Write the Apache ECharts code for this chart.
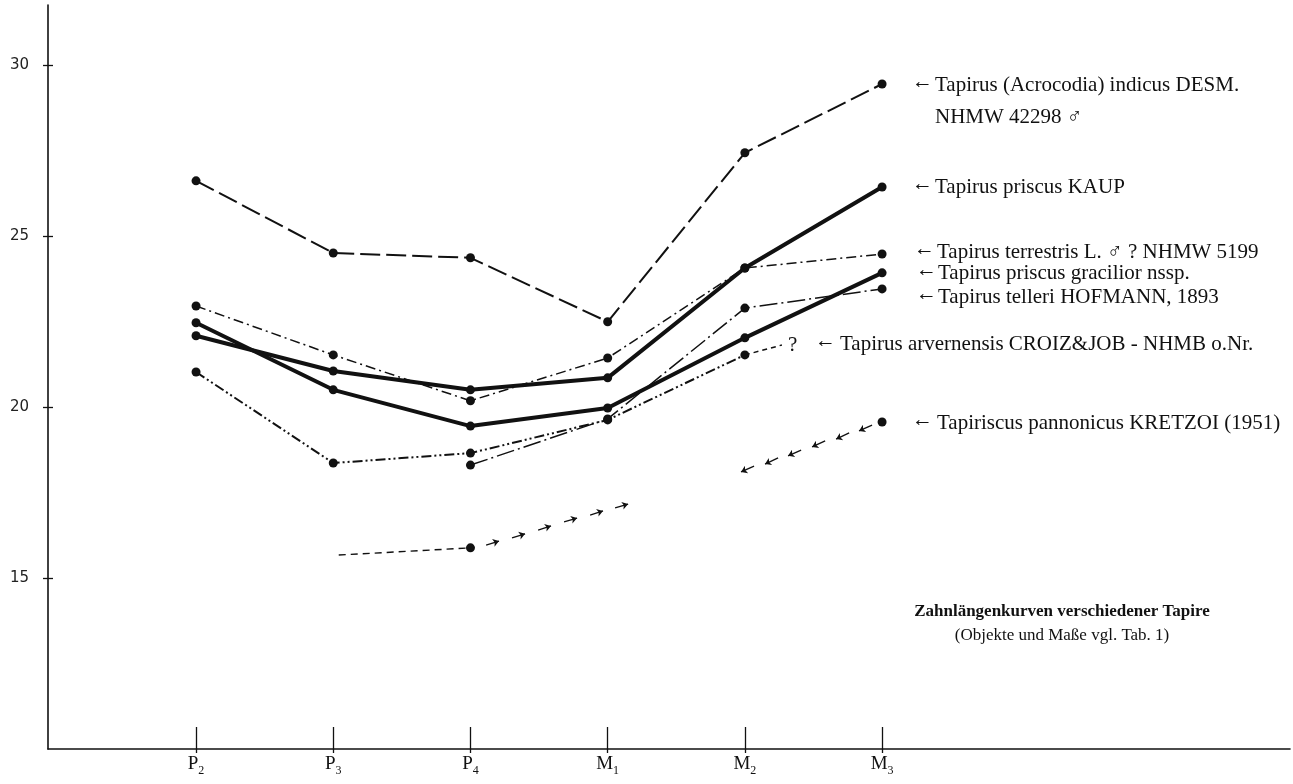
<!DOCTYPE html>
<html><head><meta charset="utf-8">
<script src="https://cdn.jsdelivr.net/npm/echarts@6/dist/echarts.min.js"></script>
<style>html,body{margin:0;padding:0;background:#fff}#c{width:1293px;height:784px}</style>
</head><body><div id="c"></div>
<script>
// ---- data ----
const categories = ['P2', 'P3', 'P4', 'M1', 'M2', 'M3'];
const catMain = ['P', 'P', 'P', 'M', 'M', 'M'];
const catSub = ['2', '3', '4', '1', '2', '3'];
const yTickValues = [15, 20, 25, 30];

const indicus     = [26.61, 24.50, 24.36, 22.49, 27.43, 29.44];
const priscusKaup = [22.08, 21.05, 20.50, 20.85, 24.06, 26.43];
const terrestris  = [22.95, 21.52, 20.18, 21.43, 24.06, 24.47];
const gracilior   = [22.46, 20.50, 19.44, 19.97, 22.02, 23.92];
const telleri     = [null, null, 18.30, 19.65, 22.89, 23.45];
const arvernensis = [21.02, 18.36, 18.65, 19.62, 21.52, null];
const arvernensisQueryX = [4, 4.27];
const arvernensisQueryY = [21.52, 21.81];
const pannonicus  = [null, null, 15.88, null, null, 19.56];
const pannonicusDashX = [1.04, 2];
const pannonicusDashY = [15.67, 15.88];
// arrow chains [tailX, tailY, headX, headY]
const pannonicusArrowsUp = [
  [2.114, 15.96, 2.208, 16.08], [2.303, 16.17, 2.398, 16.29], [2.493, 16.40, 2.587, 16.52],
  [2.682, 16.64, 2.777, 16.75], [2.872, 16.84, 2.966, 16.96], [3.054, 17.05, 3.149, 17.16]
];
const pannonicusArrowsDown = [
  [4.067, 18.27, 3.972, 18.10], [4.242, 18.51, 4.147, 18.33], [4.410, 18.74, 4.315, 18.57],
  [4.585, 19.01, 4.490, 18.83], [4.760, 19.24, 4.665, 19.06], [4.927, 19.47, 4.832, 19.30]
];

const seriesNames = [
  'Tapirus (Acrocodia) indicus DESM.', 'Tapirus priscus KAUP', 'Tapirus terrestris L. ♂ ? NHMW 5199',
  'Tapirus priscus gracilior nssp.', 'Tapirus telleri HOFMANN, 1893',
  'Tapirus arvernensis CROIZ&JOB - NHMB o.Nr.', 'Tapiriscus pannonicus KRETZOI (1951)'
];
const titleText = 'Zahnlängenkurven verschiedener Tapire';
const subtitleText = '(Objekte und Maße vgl. Tab. 1)';

// ---- chart ----
const INK = '#111';
const SERIF = '"Liberation Serif", "Times New Roman", serif';
const X_MIN = -1.079, X_MAX = 7.973, Y_MIN = 10, Y_MAX = 31.75;
const tickIdx = categories.map((c, i) => i);

function pts(arr) {
  const out = [];
  arr.forEach((v, i) => { if (v != null) out.push([i, v]); });
  return out;
}
function lineSeries(name, arr, width, dash) {
  return {
    name, type: 'line', data: pts(arr), symbol: 'circle', symbolSize: 9,
    itemStyle: { color: INK, opacity: 1 },
    lineStyle: { color: INK, width, type: dash || 'solid' },
    animation: false, z: 3
  };
}

const chart = echarts.init(document.getElementById('c'), null, { renderer: 'canvas' });

function txt(text, x, y, size, opts) {
  opts = opts || {};
  return {
    type: 'text', x, y, z: 10,
    style: {
      text, font: (opts.bold ? 'bold ' : '') + size + 'px ' + SERIF, fill: INK,
      align: opts.align || 'left', verticalAlign: 'middle',
      textAlign: opts.align || 'left', textVerticalAlign: 'middle'
    }
  };
}
function arrow(x, y) { return txt('←', x, y - 3, 21); }

const option = {
  backgroundColor: '#fff',
  animation: false,
  grid: { left: 48, right: 3, top: 5, bottom: 35 },
  xAxis: [{
    type: 'value', min: X_MIN, max: X_MAX,
    axisLine: { show: true, onZero: false, lineStyle: { color: INK, width: 1.6 } },
    axisTick: { show: true, inside: true, length: 22, customValues: tickIdx, lineStyle: { color: INK, width: 1.3 } },
    splitLine: { show: false },
    axisLabel: {
      show: true, customValues: tickIdx, margin: 6,
      formatter: v => '{a|' + catMain[Math.round(v)] + '}{b|' + catSub[Math.round(v)] + '}',
      rich: {
        a: { fontFamily: SERIF, fontSize: 19, color: INK, lineHeight: 20, verticalAlign: 'top' },
        b: { fontFamily: SERIF, fontSize: 12, color: INK, lineHeight: 32 }
      }
    }
  }, {
    type: 'value', min: X_MIN, max: X_MAX, position: 'bottom',
    axisLine: { show: false, onZero: false },
    axisTick: { show: true, inside: false, length: 4, customValues: tickIdx, lineStyle: { color: INK, width: 1.3 } },
    axisLabel: { show: false }, splitLine: { show: false }
  }],
  yAxis: [{
    type: 'value', min: Y_MIN, max: Y_MAX, position: 'left',
    axisLine: { show: true, onZero: false, lineStyle: { color: INK, width: 1.6 } },
    axisTick: { show: true, inside: false, length: 5, customValues: yTickValues, lineStyle: { color: INK, width: 1.3 } },
    splitLine: { show: false },
    axisLabel: {
      show: true, customValues: yTickValues, margin: 19,
      fontFamily: '"DejaVu Sans", sans-serif', fontSize: 15, color: '#222'
    }
  }, {
    type: 'value', min: Y_MIN, max: Y_MAX, position: 'left',
    axisLine: { show: false, onZero: false },
    axisTick: { show: true, inside: true, length: 5, customValues: yTickValues, lineStyle: { color: INK, width: 1.3 } },
    axisLabel: { show: false }, splitLine: { show: false }
  }],
  series: [
    lineSeries(seriesNames[0], indicus, 2, [20, 6]),
    lineSeries(seriesNames[1], priscusKaup, 4, 'solid'),
    lineSeries(seriesNames[2], terrestris, 1.5, [10, 4, 2, 4]),
    lineSeries(seriesNames[3], gracilior, 4, 'solid'),
    lineSeries(seriesNames[4], telleri, 1.5, [18, 4, 2, 4]),
    lineSeries(seriesNames[5], arvernensis, 2, [10, 3, 2, 3, 2, 3]),
    {
      name: seriesNames[5] + ' ?', type: 'line', showSymbol: false, symbol: 'none',
      data: arvernensisQueryX.map((x, i) => [x, arvernensisQueryY[i]]),
      lineStyle: { color: INK, width: 1.5, type: [5, 4] }
    },
    {
      name: seriesNames[6] + ' dash', type: 'line', symbol: 'none',
      data: pannonicusDashX.map((x, i) => [x, pannonicusDashY[i]]),
      lineStyle: { color: INK, width: 1.4, type: [7, 5] }
    },
    {
      name: seriesNames[6], type: 'scatter', data: pts(pannonicus), symbol: 'circle', symbolSize: 9,
      itemStyle: { color: INK, opacity: 1 }, z: 4
    },
    {
      name: seriesNames[6] + ' arrows', type: 'lines', coordinateSystem: 'cartesian2d',
      symbol: ['none', 'arrow'], symbolSize: 6,
      lineStyle: { color: INK, width: 1.3, opacity: 1, curveness: 0 },
      data: pannonicusArrowsUp.concat(pannonicusArrowsDown).map(a => ({ coords: [[a[0], a[1]], [a[2], a[3]]] }))
    }
  ],
  graphic: [
    arrow(912, 85), txt(seriesNames[0], 935, 85, 21),
    txt('NHMW 42298 ♂', 935, 117, 21),
    arrow(912, 187), txt(seriesNames[1], 935, 187, 21),
    arrow(914, 252), txt(seriesNames[2], 937, 252, 21),
    arrow(916, 273), txt(seriesNames[3], 938, 273, 21),
    arrow(916, 297), txt(seriesNames[4], 938, 297, 21),
    txt('?', 788, 345, 21), arrow(815, 344), txt(seriesNames[5], 840, 344, 21),
    arrow(912, 423), txt(seriesNames[6], 937, 423, 21),
    txt(titleText, 1062, 612, 17, { bold: true, align: 'center' }),
    txt(subtitleText, 1062, 636, 17, { align: 'center' })
  ]
};
chart.setOption(option);
</script>
</body></html>
